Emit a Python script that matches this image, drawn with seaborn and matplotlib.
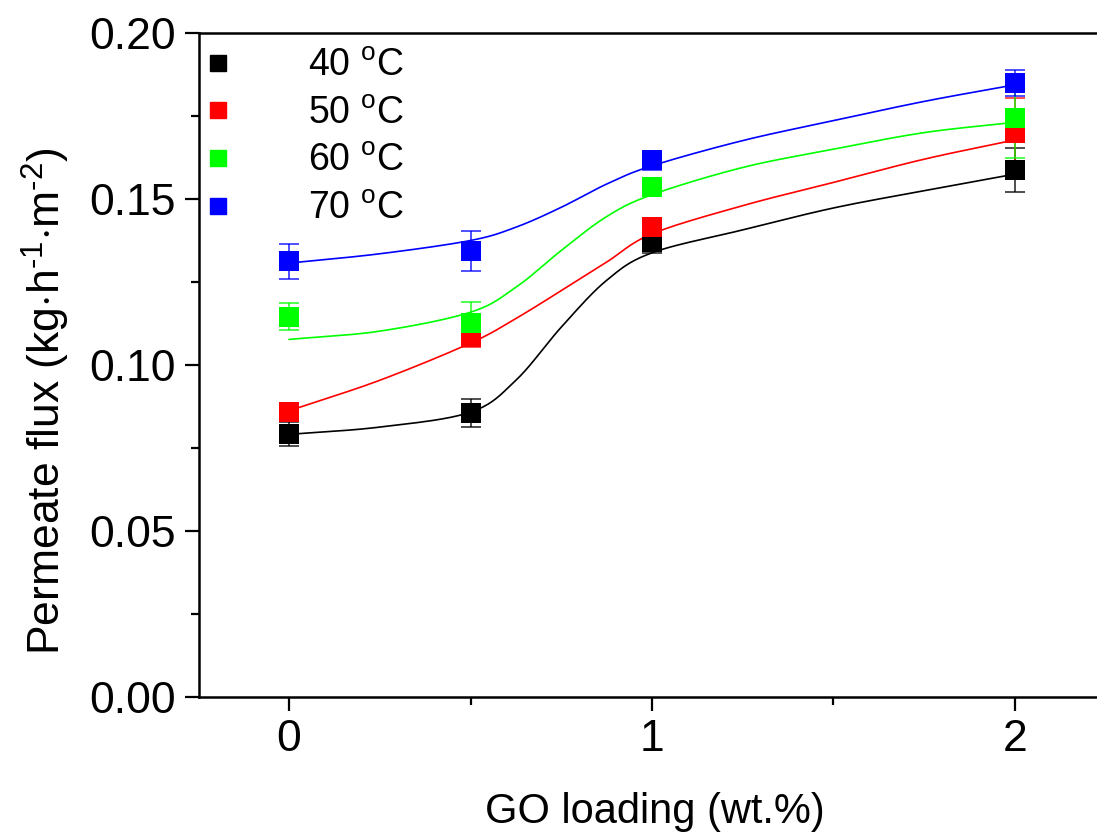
import numpy as np
import pandas as pd
import matplotlib
matplotlib.use("Agg")
import matplotlib.pyplot as plt
import seaborn as sns
from matplotlib.lines import Line2D
from matplotlib.ticker import MultipleLocator

# ---- data ----
go_loading = [0, 0.5, 1, 2]
series_labels = ["40 $^{\\mathrm{o}}$C", "50 $^{\\mathrm{o}}$C", "60 $^{\\mathrm{o}}$C", "70 $^{\\mathrm{o}}$C"]
colors = ["#000000", "#ff0000", "#00ff00", "#0000ff"]

flux_40 = [0.0792, 0.0856, 0.1370, 0.1588]
flux_50 = [0.0858, 0.1084, 0.1417, 0.1700]
flux_60 = [0.1146, 0.1126, 0.1537, 0.1745]
flux_70 = [0.1312, 0.1344, 0.1616, 0.1850]

err_40 = [0.0036, 0.0042, 0.0033, 0.0067]
err_50 = [0.0027, 0.0030, 0.0027, 0.0105]
err_60 = [0.0040, 0.0065, 0.0020, 0.0120]
err_70 = [0.0052, 0.0060, 0.0029, 0.0040]

# fitted curves, read at these loadings
curve_x = [0, 0.25, 0.5, 0.625, 0.75, 0.875, 1, 1.25, 1.5, 1.75, 2]
curve_40 = [0.0791, 0.0813, 0.0858, 0.0954, 0.1114, 0.1255, 0.1338, 0.1407, 0.1473, 0.1525, 0.1575]
curve_50 = [0.0862, 0.0954, 0.1066, 0.1140, 0.1224, 0.1310, 0.1395, 0.1480, 0.1550, 0.1620, 0.1678]
curve_60 = [0.1077, 0.1102, 0.1159, 0.1234, 0.1345, 0.1447, 0.1513, 0.1595, 0.1650, 0.1700, 0.1731]
curve_70 = [0.1307, 0.1335, 0.1375, 0.1415, 0.1475, 0.1545, 0.1600, 0.1676, 0.1736, 0.1794, 0.1844]

fluxes = [flux_40, flux_50, flux_60, flux_70]
errs = [err_40, err_50, err_60, err_70]
curves = [curve_40, curve_50, curve_60, curve_70]


def smooth(xs, ys, n=20):
    """Catmull-Rom rendering through the read curve points."""
    xs = np.asarray(xs, float)
    ys = np.asarray(ys, float)
    px = np.concatenate([[2 * xs[0] - xs[1]], xs, [2 * xs[-1] - xs[-2]]])
    py = np.concatenate([[2 * ys[0] - ys[1]], ys, [2 * ys[-1] - ys[-2]]])
    ox, oy = [], []
    for i in range(1, len(px) - 2):
        t = np.linspace(0, 1, n, endpoint=False)
        for arr, out in ((px, ox), (py, oy)):
            p0, p1, p2, p3 = arr[i - 1], arr[i], arr[i + 1], arr[i + 2]
            out.extend(0.5 * ((2 * p1) + (-p0 + p2) * t + (2 * p0 - 5 * p1 + 4 * p2 - p3) * t ** 2
                              + (-p0 + 3 * p1 - 3 * p2 + p3) * t ** 3))
    ox.append(xs[-1]); oy.append(ys[-1])
    return np.array(ox), np.array(oy)


sns.set_theme(style="ticks")
plt.rcParams["font.family"] = ["Liberation Sans", "DejaVu Sans"]
plt.rcParams["mathtext.fontset"] = "custom"
plt.rcParams["mathtext.rm"] = "Liberation Sans"
plt.rcParams["mathtext.it"] = "Liberation Sans:italic"
for k in ["text.color", "axes.labelcolor", "xtick.color", "ytick.color", "axes.edgecolor"]:
    plt.rcParams[k] = "black"

W, H = 1097, 840
fig = plt.figure(figsize=(W / 100, H / 100), dpi=100)
left_px, right_px, top_px, bot_px = 199, 1110, 33, 697
ax = fig.add_axes([left_px / W, (H - bot_px) / H, (right_px - left_px) / W, (bot_px - top_px) / H])

x_per_px = 1 / 363.0
ax.set_xlim(-(289 - left_px) * x_per_px, (right_px - 289) * x_per_px)
ax.set_ylim(0, 0.20)

for lab, col, yv, ev, cv in zip(series_labels, colors, fluxes, errs, curves):
    sx, sy = smooth(curve_x, cv)
    dfc = pd.DataFrame({"x": sx, "y": sy})
    sns.lineplot(data=dfc, x="x", y="y", color=col, lw=1.2, ax=ax, sort=False, zorder=2)
    ax.errorbar(go_loading, yv, yerr=ev, fmt="none", ecolor=col, elinewidth=1.3,
                capsize=7.5, capthick=1.3, alpha=0.75, zorder=3)
    dfp = pd.DataFrame({"x": go_loading, "y": yv})
    sns.scatterplot(data=dfp, x="x", y="y", marker="s", s=200, color=col,
                    edgecolor=col, linewidth=0, ax=ax, zorder=4)

ax.set_xticks([0, 1, 2])
ax.set_xticklabels(["0", "1", "2"])
ax.xaxis.set_minor_locator(MultipleLocator(0.5))
ax.yaxis.set_major_locator(MultipleLocator(0.05))
ax.yaxis.set_minor_locator(MultipleLocator(0.025))
ax.yaxis.set_major_formatter(matplotlib.ticker.FormatStrFormatter("%.2f"))

ax.tick_params(which="major", direction="out", length=10, width=1.6, labelsize=32, color="black")
ax.tick_params(which="minor", direction="out", length=6, width=1.6, color="black")
ax.tick_params(axis="y", which="major", pad=7)
ax.tick_params(axis="x", which="major", pad=6)

for side in ["left", "bottom", "top"]:
    ax.spines[side].set_linewidth(1.8)
    ax.spines[side].set_color("black")
ax.spines["right"].set_visible(False)
ax.spines["top"].set_visible(True)

ax.set_xlabel("GO loading (wt.%)", fontsize=30, labelpad=23)
ax.set_ylabel("Permeate flux (kg$\\cdot$h$^{\\text{-}1}$$\\cdot$m$^{\\text{-}2}$)", fontsize=32, labelpad=12)
ax.yaxis.label.set_y(0.445)

handles = [Line2D([0], [0], marker="s", linestyle="none", color=c, markersize=11) for c in colors]
ax.legend(handles, series_labels, loc="upper left", bbox_to_anchor=(0.0, 0.9775), frameon=False,
          fontsize=27, handletextpad=1.9, labelspacing=0.31, borderaxespad=0.0, borderpad=0.0,
          handlelength=1.0)

fig.savefig("out.png", dpi=100)
